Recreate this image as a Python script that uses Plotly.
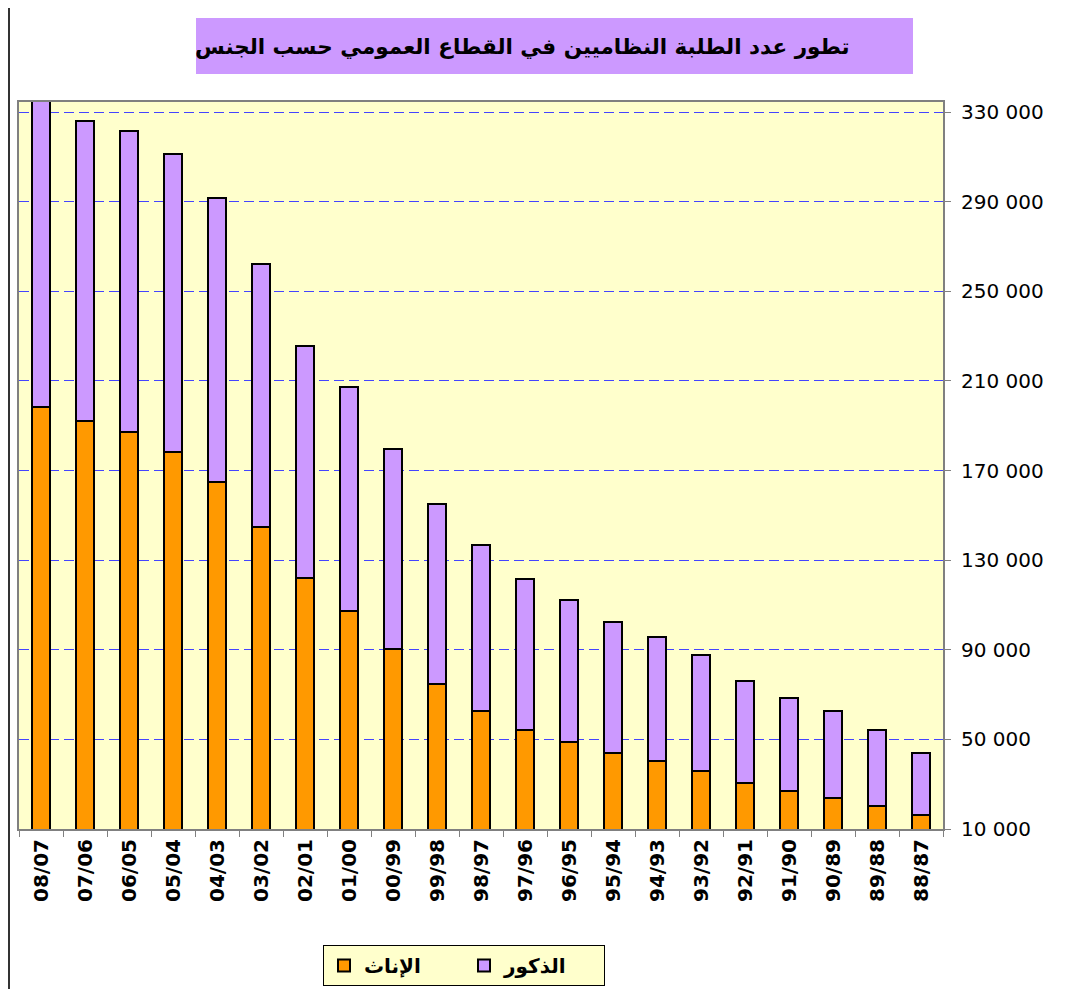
import plotly.graph_objects as go

# Data
years = ["08/07", "07/06", "06/05", "05/04", "04/03", "03/02", "02/01", "01/00",
         "00/99", "99/98", "98/97", "97/96", "96/95", "95/94", "94/93", "93/92",
         "92/91", "91/90", "90/89", "89/88", "88/87"]
females = [198300, 192300, 187000, 178100, 164700, 144600, 121900, 107500,
           90300, 74700, 62800, 54200, 48800, 44000, 40400, 36000,
           30600, 26900, 23800, 20300, 16200]
totals = [335300, 326000, 321500, 311200, 291600, 262200, 225600, 207300,
          179600, 155100, 136800, 121600, 112200, 102400, 95700, 87600,
          76100, 68500, 62700, 54200, 43700]
males = [t - f for t, f in zip(totals, females)]

y_tickvals = [10000, 50000, 90000, 130000, 170000, 210000, 250000, 290000, 330000]
y_ticktext = ["10 000", "50 000", "90 000", "130 000", "170 000", "210 000",
              "250 000", "290 000", "330 000"]

title_text = "تطور عدد الطلبة النظاميين في القطاع العمومي حسب الجنس"
name_f = "الإناث"
name_m = "الذكور"

# page body adds an 8px offset; work in screenshot pixels and subtract it
OFF = 8
W, H = 1071 - OFF, 989 - OFF
L, R, T, B = 19 - OFF, 943 - OFF, 102 - OFF, 829 - OFF
pw, ph = R - L, B - T


def px_x(x):
    return (x - OFF - L) / pw


def px_y(y):
    return (B - (y - OFF)) / ph


fig = go.Figure()
fig.add_trace(go.Bar(
    x=years, y=females, name=name_f,
    marker=dict(color="#FF9900", line=dict(color="black", width=2)),
    width=0.41,
))
fig.add_trace(go.Bar(
    x=years, y=males, name=name_m,
    marker=dict(color="#CC99FF", line=dict(color="black", width=2)),
    width=0.41,
))

fig.update_layout(
    width=W, height=H,
    barmode="stack",
    margin=dict(l=L, r=W - R, t=T, b=H - B, autoexpand=False),
    paper_bgcolor="white",
    plot_bgcolor="#FFFFCC",
    showlegend=True,
    legend=dict(
        orientation="h",
        x=px_x(323), y=px_y(945), xanchor="left", yanchor="top",
        bgcolor="#FFFFCC", bordercolor="black", borderwidth=1,
        font=dict(family="DejaVu Sans", size=20, color="black", weight="bold"),
        traceorder="normal",
        itemwidth=30,
        entrywidth=95,
        tracegroupgap=0,
    ),
    xaxis=dict(
        type="category",
        tickangle=-90,
        tickfont=dict(family="DejaVu Sans", size=20, color="black", weight="bold"),
        ticks="outside", ticklen=6, tickcolor="#808080", tickwidth=1,
        tickson="boundaries",
        showline=True, linecolor="#808080", linewidth=2, mirror=True,
        showgrid=False,
    ),
    yaxis=dict(
        side="right",
        range=[10000, 10000 + (B - T) * 320000 / 717],
        tickvals=y_tickvals, ticktext=y_ticktext,
        tickfont=dict(family="DejaVu Sans", size=20, color="black"),
        ticks="outside", ticklen=6, tickcolor="#808080", tickwidth=1,
        ticklabelstandoff=6,
        showline=True, linecolor="#808080", linewidth=2, mirror=True,
        showgrid=True, gridcolor="#4444FF", gridwidth=1, griddash="10px,5px",
        zeroline=False,
    ),
)

# title box
fig.add_shape(type="rect", xref="paper", yref="paper",
              x0=px_x(196), x1=px_x(913), y0=px_y(74), y1=px_y(18),
              fillcolor="#CC99FF", line=dict(width=0), layer="above")
fig.add_annotation(xref="paper", yref="paper", x=px_x(522), y=px_y(46),
                   text=title_text, showarrow=False,
                   xanchor="center", yanchor="middle",
                   font=dict(family="DejaVu Sans", size=21.5, color="black", weight="bold"))

# chart area left border
fig.add_shape(type="line", xref="paper", yref="paper",
              x0=px_x(9), x1=px_x(9), y0=px_y(0), y1=px_y(989),
              line=dict(color="#333333", width=2))

fig.write_html("out.html")
